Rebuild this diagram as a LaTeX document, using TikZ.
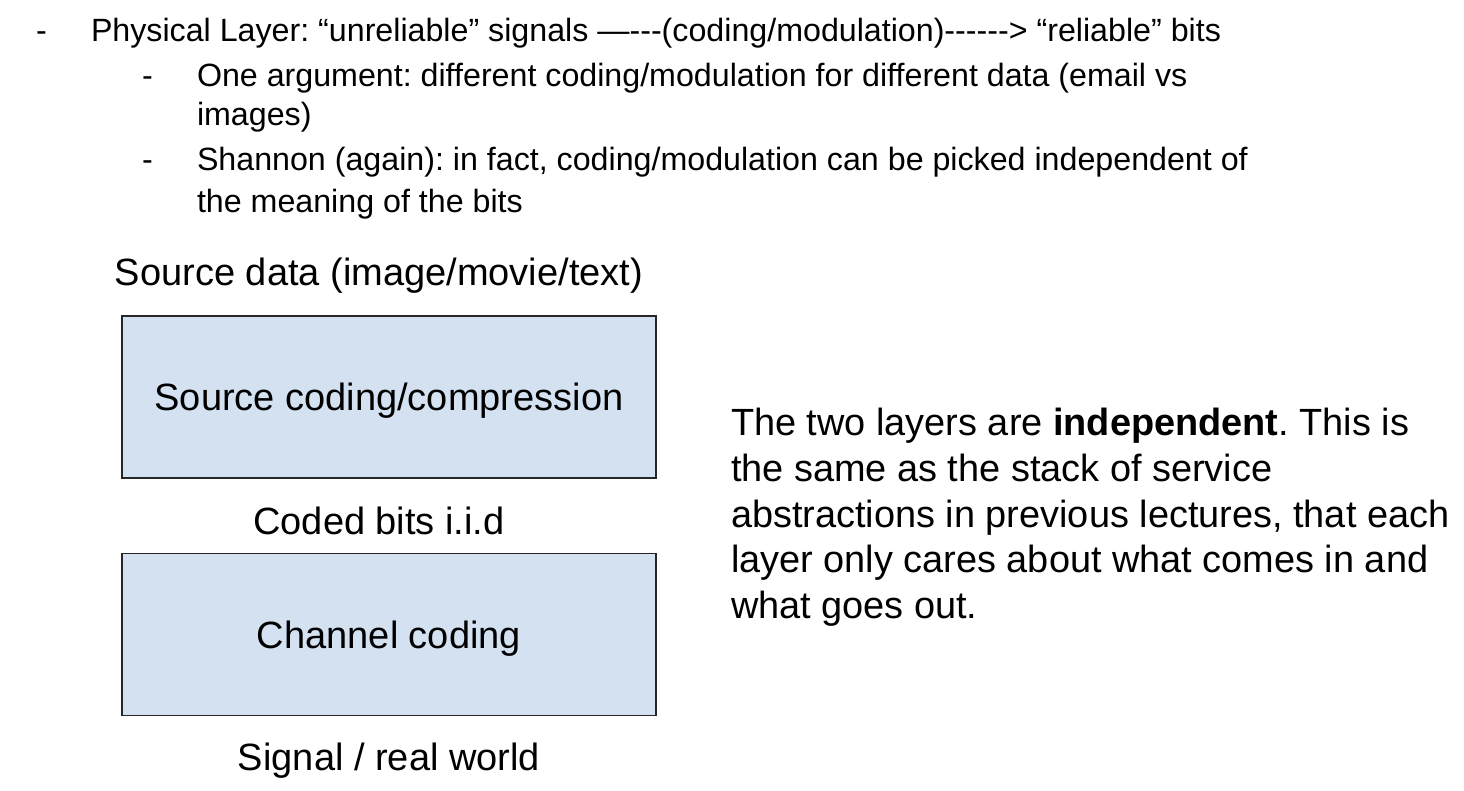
\documentclass[tikz,border=0pt]{standalone}
\usepackage{fontspec}
\setmainfont{Liberation Sans}
\frenchspacing
\definecolor{boxfill}{HTML}{D3E1F1}
\definecolor{boxline}{HTML}{262626}
% a hyphen that never merges with its neighbours into a dash
\newcommand{\hy}{-\kern0pt}
\begin{document}
\begin{tikzpicture}[x=1pt,y=-1pt,
  every node/.style={inner sep=0pt,outer sep=0pt},
  listtext/.style={anchor=base west,font=\fontsize{32.2}{38}\selectfont},
  dashmark/.style={anchor=base west,font=\fontsize{32.2}{38}\selectfont},
  label/.style={anchor=base,font=\fontsize{38}{44}\selectfont},
  para/.style={anchor=base west,font=\fontsize{37.9}{44}\selectfont},
  layerbox/.style={draw=boxline,fill=boxfill,line width=1.8pt,
    minimum width=534pt,minimum height=162pt,text depth=0pt,
    font=\fontsize{38}{44}\selectfont}]
\useasboundingbox (0,0) rectangle (1464,790);

% bullet list
\node[dashmark] (d1) at (36,41) {\hy};
\node[listtext] (l1) at (91,41) {Physical Layer: “unreliable” signals —\hy\hy\hy(coding/modulation)\hy\hy\hy\hy\hy\hy> “reliable” bits};
\node[dashmark] (d2) at (142,86) {\hy};
\node[listtext] (l2) at (197,86) {One argument: different coding/modulation for different data (email vs};
\node[listtext] (l3) at (197,125) {images)};
\node[dashmark] (d3) at (142,170) {\hy};
\node[listtext] (l4) at (197,170) {Shannon (again): in fact, coding/modulation can be picked independent of};
\node[listtext] (l5) at (197,212) {the meaning of the bits};

% layer stack
\node[label] (src) at (379,285) {Source data (image/movie/text)};
\node[layerbox] (sc) at (389,397) {Source coding/compression};
\node[label] (bits) at (379,534) {Coded bits i.i.d};
\node[layerbox] (cc) at (389,634.5) {Channel coding};
\node[label] (sig) at (389,770) {Signal / real world};

% explanation
\node[para] (p1) at (731,435) {The two layers are \textbf{independent}. This is};
\node[para] (p2) at (731,481) {the same as the stack of service};
\node[para] (p3) at (731,527) {abstractions in previous lectures, that each};
\node[para] (p4) at (731,572) {layer only cares about what comes in and};
\node[para] (p5) at (731,618) {what goes out.};
\end{tikzpicture}
\end{document}
